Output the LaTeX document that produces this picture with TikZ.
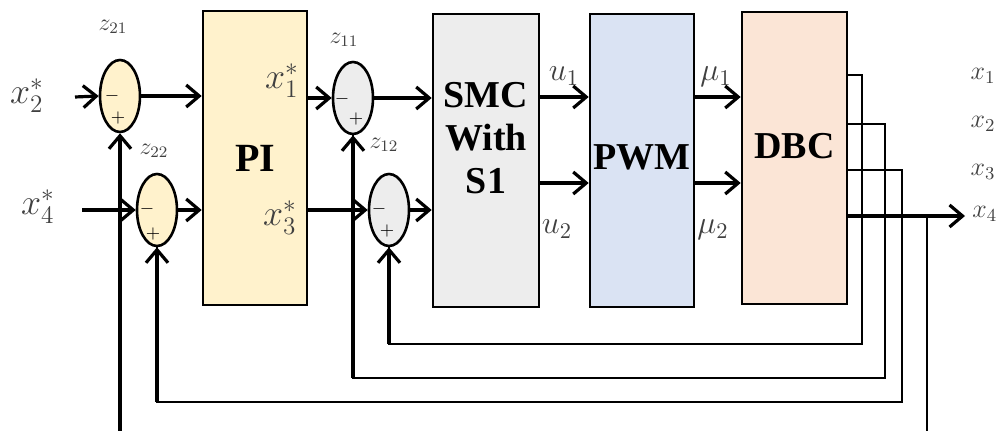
\documentclass[tikz,border=0pt]{standalone}
\usepackage{fix-cm}
\usepackage{fontspec}
\setmainfont{Liberation Serif}
\usetikzlibrary{arrows.meta,shapes.geometric}
\definecolor{piY}{HTML}{FFF2CC}
\definecolor{smcG}{HTML}{EDEDED}
\definecolor{pwmB}{HTML}{DAE3F3}
\definecolor{dbcO}{HTML}{FBE5D6}
\begin{document}
\begin{tikzpicture}[x=0.5pt,y=-0.5pt,
 blk/.style={draw,line width=1.3pt,minimum width=52pt,minimum height=146.5pt,inner sep=0pt},
 sumn/.style={draw,ellipse,line width=1.3pt,minimum width=20pt,minimum height=36pt,inner sep=0pt},
 main/.style={line width=1.6pt,-{Straight Barb[length=6.5pt,width=11pt]}},
 fbl/.style={line width=0.8pt},
 big/.style={font=\fontsize{19}{21.5}\selectfont\bfseries,align=center,inner sep=0pt},
 lab/.style={text=black!75,inner sep=0pt},
 biglab/.style={lab,font=\fontsize{18}{18}\selectfont},
 midlab/.style={lab,font=\fontsize{16}{16}\selectfont},
 zlab/.style={lab,font=\fontsize{12}{12}\selectfont},
 outlab/.style={lab,font=\fontsize{13}{13}\selectfont},
 sgn/.style={font=\fontsize{9}{9}\selectfont,inner sep=0pt},
]
\useasboundingbox (0,0) rectangle (999,431);

% blocks
\node[blk,fill=piY,minimum height=147pt] (PI) at (255,158) {};
\node[blk,fill=smcG,minimum width=53pt] (SMC) at (486,160.5) {};
\node[blk,fill=pwmB] (PWM) at (642,160.5) {};
\node[blk,fill=dbcO,minimum width=52.5pt,minimum height=146pt] (DBC) at (794.5,158) {};
\node[big,font=\fontsize{20}{22}\selectfont\bfseries] (PIt) at (255,158) {PI};
\node[big] (SMCt) at (486,138) {SMC\\With\\S1};
\node[big] (PWMt) at (642,157) {PWM};
\node[big] (DBCt) at (794.5,146) {DBC};

% summing junctions
\node[sumn,fill=piY] (z21) at (120,96) {};
\node[sumn,fill=piY] (z22) at (157,210) {};
\node[sumn,fill=smcG] (z11) at (353,98) {};
\node[sumn,fill=smcG] (z12) at (389,210) {};
\node[sgn] (m21) at (112,96) {$-$};
\node[sgn] (p21) at (118,118) {$+$};
\node[sgn] (m22) at (147,209) {$-$};
\node[sgn] (p22) at (153,234) {$+$};
\node[sgn] (m11) at (342,99) {$-$};
\node[sgn] (p11) at (356,119) {$+$};
\node[sgn] (m12) at (379,209) {$-$};
\node[sgn] (p12) at (387,231) {$+$};

% labels
\node[biglab] (x2s) at (27,96) {$x_2^{*}$};
\node[biglab] (x4s) at (38,207) {$x_4^{*}$};
\node[biglab] (x1s) at (282,81) {$x_1^{*}$};
\node[biglab] (x3s) at (280,218) {$x_3^{*}$};
\node[zlab] (l21) at (113,27) {$z_{21}$};
\node[zlab] (l22) at (154,151) {$z_{22}$};
\node[zlab] (l11) at (344,40) {$z_{11}$};
\node[zlab] (l12) at (384,145) {$z_{12}$};
\node[midlab] (u1) at (564,76) {$u_1$};
\node[midlab] (u2) at (557,229) {$u_2$};
\node[midlab] (mu1) at (716,77) {$\mu_1$};
\node[midlab] (mu2) at (713,230) {$\mu_2$};
\node[outlab] (y1) at (983,76) {$x_1$};
\node[outlab] (y2) at (983,124) {$x_2$};
\node[outlab] (y3) at (983,172) {$x_3$};
\node[outlab,anchor=west] (y4) at (972,214) {$x_4$};

% input coordinates
\coordinate (in2) at (75,97);
\coordinate (in4) at (82,210);

% forward path
\draw[main] (in2) -- (z21.west);
\draw[main] (in4) -- (z22.west);
\draw[main] (z21.east) -- (z21.east -| PI.west);
\draw[main] (z22.east) -- (z22.east -| PI.west);
\draw[main] (PI.east |- z11.west) -- (z11.west);
\draw[main] (PI.east |- z12.west) -- (z12.west);
\draw[main] (z11.east) -- (z11.east -| SMC.west);
\draw[main] (z12.east) -- (z12.east -| SMC.west);
\coordinate (r1) at (0,97);
\coordinate (r2) at (0,183);
\draw[main] (SMC.east |- r1) -- (PWM.west |- r1);
\draw[main] (SMC.east |- r2) -- (PWM.west |- r2);
\draw[main] (PWM.east |- r1) -- (DBC.west |- r1);
\draw[main] (PWM.east |- r2) -- (DBC.west |- r2);

% DBC outputs
\coordinate (o1) at (DBC.east |- 0,75);
\coordinate (o2) at (DBC.east |- 0,124);
\coordinate (o3) at (DBC.east |- 0,170);
\coordinate (o4) at (DBC.east |- 0,216);
\coordinate (c1) at (862,344);
\coordinate (c2) at (885,378);
\coordinate (c3) at (902,402);
\coordinate (tap) at (927,216);
\coordinate (bot4) at (927,431);
\coordinate (bot2) at (120,431);

\draw[fbl] (o1) -| (c1) -| (z12.south);
\draw[fbl] (o2) -| (c2) -| (z11.south);
\draw[fbl] (o3) -| (c3) -| (z22.south);
\draw[main,shorten >=3.5pt] (o4) -- (o4 -| y4.west);
\draw[fbl] (tap) -- (bot4);

\draw[main] (z12.south |- c1) -- (z12.south);
\draw[main] (z11.south |- c2) -- (z11.south);
\draw[main] (z22.south |- c3) -- (z22.south);
\draw[main] (bot2) -- (z21.south);
\end{tikzpicture}
\end{document}
